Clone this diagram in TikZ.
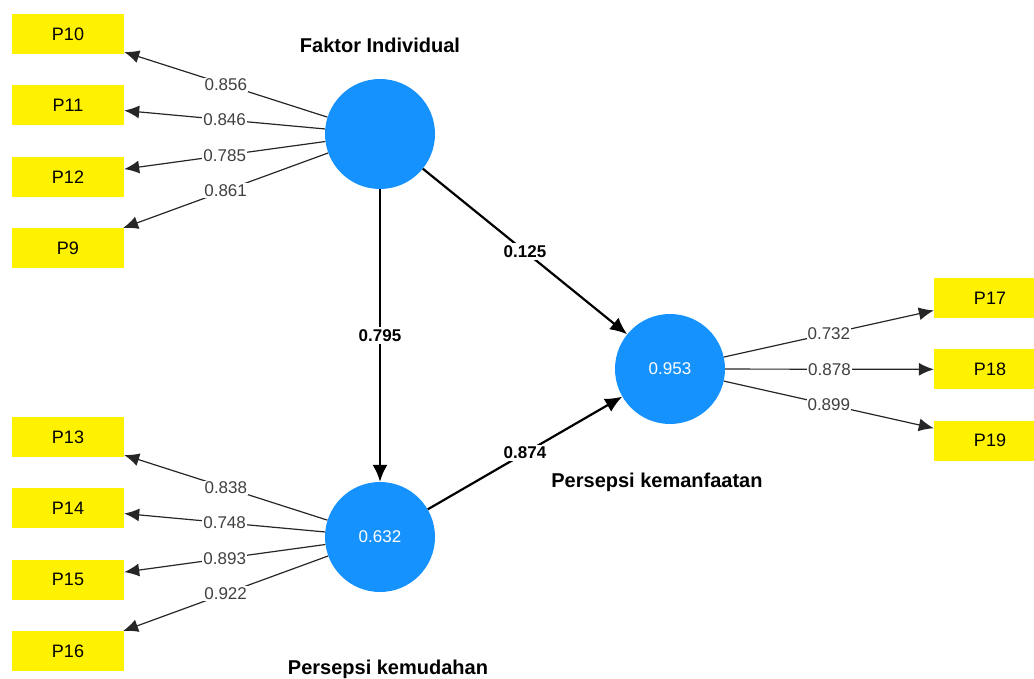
\documentclass[tikz,border=0pt]{standalone}
\usepackage{fontspec}
\setmainfont{Liberation Sans}
\usetikzlibrary{arrows.meta, positioning}
\definecolor{lvblue}{RGB}{22,146,255}

\begin{document}
\begin{tikzpicture}[x=1pt, y=-1pt, node distance=31pt, >={Latex[length=15pt,width=13pt]}]
			\tikzset{%
				item/.style={rectangle,fill=yellow,minimum width=112pt,minimum height=40pt,inner sep=0pt,font=\fontsize{18}{20}\selectfont},
				latent/.style={circle,fill=lvblue,minimum size=110pt,inner sep=0pt,text=white,font=\fontsize{17}{19}\selectfont},
				caption/.style={font=\fontsize{20}{22}\selectfont\bfseries},
				loading/.style={->,line width=1.2pt,draw=black!85},
				coef/.style={->,line width=2.2pt,>={Latex[length=17pt,width=15pt]}},
				weight/.style={fill=white,inner sep=1pt,text=black!75,font=\fontsize{17}{19}\selectfont},
				coefval/.style={fill=white,inner sep=2pt,font=\fontsize{17}{19}\selectfont\bfseries}
			}
			\useasboundingbox (0,0) rectangle (1034,679);
			% latent variables
			\node[latent](fi) at (380,134){};
			\node[latent](pkmd) at (380,537){0.632};
			\node[latent](pkmf) at (670,369){0.953};
			\node[caption](fi-name) at (380,45){Faktor Individual};
			\node[caption](pkmd-name) at (388,669){Persepsi kemudahan};
			\node[caption](pkmf-name) at (657,482){Persepsi kemanfaatan};
			% indicators
			\node[item](p10) at (68,34){P10};
			\node[item, below=of p10](p11){P11};
			\node[item, below=of p11](p12){P12};
			\node[item, below=of p12](p9){P9};
			\node[item](p13) at (68,437){P13};
			\node[item, below=of p13](p14){P14};
			\node[item, below=of p14](p15){P15};
			\node[item, below=of p15](p16){P16};
			\node[item](p17) at (990,298){P17};
			\node[item, below=of p17](p18){P18};
			\node[item, below=of p18](p19){P19};
			% loadings
			\draw[loading] (fi) to node[weight]{0.856} (p10);
			\draw[loading] (fi) to node[weight]{0.846} (p11);
			\draw[loading] (fi) to node[weight]{0.785} (p12);
			\draw[loading] (fi) to node[weight]{0.861} (p9);
			\draw[loading] (pkmd) to node[weight]{0.838} (p13);
			\draw[loading] (pkmd) to node[weight]{0.748} (p14);
			\draw[loading] (pkmd) to node[weight]{0.893} (p15);
			\draw[loading] (pkmd) to node[weight]{0.922} (p16);
			\draw[loading] (pkmf) to node[weight]{0.732} (p17);
			\draw[loading] (pkmf) to node[weight]{0.878} (p18);
			\draw[loading] (pkmf) to node[weight]{0.899} (p19);
			% paths
			\draw[coef] (fi) to node[coefval]{0.795} (pkmd);
			\draw[coef] (fi) to node[coefval]{0.125} (pkmf);
			\draw[coef] (pkmd) to node[coefval]{0.874} (pkmf);
		\end{tikzpicture}
\end{document}
